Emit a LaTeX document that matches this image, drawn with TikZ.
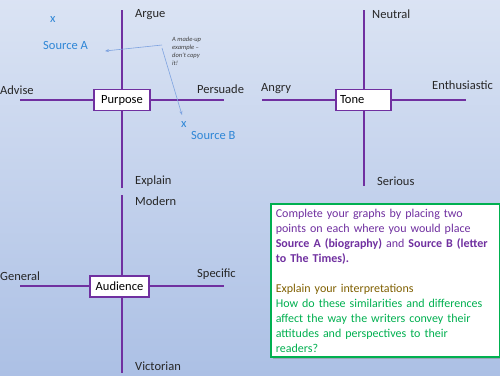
\documentclass[tikz,border=0pt]{standalone}
\usepackage{fontspec}
\setmainfont{Carlito}
\usepackage{xcolor}
\usetikzlibrary{arrows.meta,positioning,shadows}
\definecolor{axispurple}{HTML}{7030A0}
\definecolor{srcblue}{HTML}{2E86D6}
\definecolor{notelineblue}{HTML}{7EA3E0}
\definecolor{notegreen}{HTML}{00B050}
\definecolor{notebrown}{HTML}{806000}
\definecolor{bgtop}{HTML}{F2F5FB}
\definecolor{bgdark}{HTML}{A9BEE4}
\definecolor{bgbot}{HTML}{BCCDEB}
\pgfdeclareverticalshading{slidebg}{100bp}{color(0bp)=(bgbot); color(22bp)=(bgdark); color(100bp)=(bgtop)}

\begin{document}
\begin{tikzpicture}[
    x=1pt, y=-1pt,
    >=Stealth,
    hubbox/.style={draw=axispurple, line width=1.6pt, fill=white,
        minimum height=21pt, inner sep=3pt,
        font=\fontsize{12.5}{14}\selectfont},
    axislbl/.style={anchor=west, inner sep=0pt,
        font=\fontsize{12.5}{14}\selectfont, text=black!85},
    axisline/.style={draw=axispurple, line width=1.6pt},
    srclbl/.style={anchor=west, inner sep=0pt,
        font=\fontsize{12.5}{14}\selectfont, text=srcblue},
    notearrow/.style={->, color=notelineblue, line width=0.6pt,
        >={Stealth[length=4pt,width=3pt]}}
]
% background
\shade[shading=slidebg] (0,0) rectangle (500,375);
\useasboundingbox (0,0) rectangle (500,375);

% purpose graph
\coordinate (PT) at (122,10);
\coordinate (PB) at (122,188);
\coordinate (PL) at (20,100);
\coordinate (PR) at (224,100);
\draw[axisline] (PT) -- (PB);
\draw[axisline] (PL) -- (PR);
\node[hubbox, minimum width=56pt] (Purpose) at (122,100) {Purpose};
\node[axislbl] (Argue) at (135,15) {Argue};
\node[axislbl] (Advise) at (0,90) {Advise};
\node[axislbl] (Persuade) at (197,89) {Persuade};
\node[axislbl] (Explain) at (135,181) {Explain};

% example sources
\node[srclbl] (SAx) at (50,20) {x};
\node[srclbl] (SA) at (43,45) {Source A};
\node[srclbl] (SBx) at (181,125) {x};
\node[srclbl] (SB) at (191,135) {Source B};
\node[anchor=north west, inner sep=0pt, align=left, text=black!75,
    font=\fontsize{6.5}{8}\selectfont\itshape] (Note) at (172,37)
    {A made-up\\example --\\don't copy\\it!};
\coordinate (NoteA) at (162,45);
\coordinate (NoteB) at (162,48);
\coordinate (EndA) at (105,51);
\coordinate (EndB) at (182,115);
\draw[notearrow] (NoteA) -- (EndA);
\draw[notearrow] (NoteB) -- (EndB);

% tone graph
\coordinate (TT) at (364,10);
\coordinate (TB) at (364,186);
\coordinate (TL) at (262,100);
\coordinate (TR) at (466,100);
\draw[axisline] (TT) -- (TB);
\draw[axisline] (TL) -- (TR);
\node[hubbox, minimum width=55pt, text width=47pt, align=left] (Tone) at (363.5,100) {Tone};
\node[axislbl] (Neutral) at (372,14) {Neutral};
\node[axislbl] (Angry) at (261,89) {Angry};
\node[axislbl] (Enthus) at (432,85) {Enthusiastic};
\node[axislbl] (Serious) at (377,181) {Serious};

% audience graph
\coordinate (AT) at (122,195);
\coordinate (AB) at (122,373);
\coordinate (AL) at (20,286);
\coordinate (AR) at (224,286);
\draw[axisline] (AT) -- (AB);
\draw[axisline] (AL) -- (AR);
\node[hubbox, minimum width=59pt] (Audience) at (119.5,286.5) {Audience};
\node[axislbl] (Modern) at (135,201) {Modern};
\node[axislbl] (General) at (0,276) {General};
\node[axislbl] (Specific) at (197,274) {Specific};
\node[axislbl] (Victorian) at (135,366) {Victorian};

% task box
\node[draw=notegreen, line width=1.6pt, fill=white, anchor=north west,
    minimum width=227pt, minimum height=148pt, text width=219pt,
    inner sep=5pt, align=left, text=axispurple,
    font=\fontsize{12}{15}\selectfont,
    drop shadow={opacity=0.45, shadow xshift=2pt, shadow yshift=-2pt}]
    (Task) at (270,203)
    {Complete your graphs by placing two\\
     points on each where you would place\\
     \textbf{Source A (biography)} and \textbf{Source B (letter}\\
     \textbf{to The Times).}\\[15pt]
     \textcolor{notebrown}{Explain your interpretations}\\
     \textcolor{notegreen}{How do these similarities and differences}\\
     \textcolor{notegreen}{affect the way the writers convey their}\\
     \textcolor{notegreen}{attitudes and perspectives to their}\\
     \textcolor{notegreen}{readers?}};
\end{tikzpicture}
\end{document}
